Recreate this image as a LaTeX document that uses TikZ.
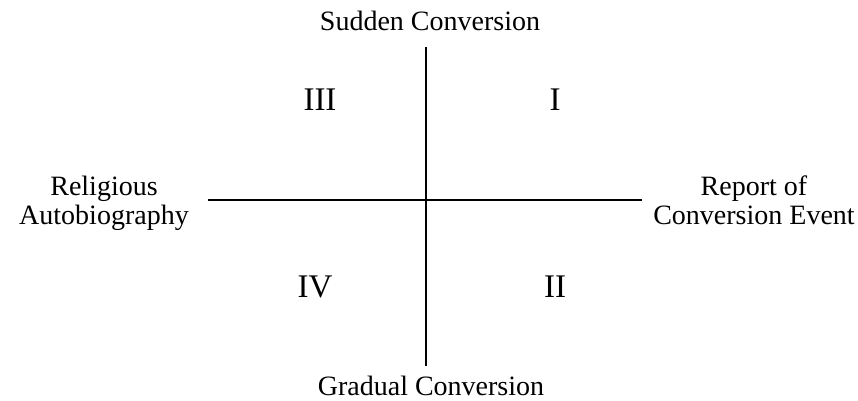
\documentclass[tikz,border=0pt]{standalone}
\usepackage{fontspec}
\setmainfont{Liberation Serif}
\tikzset{
  axislabel/.style={align=center, inner sep=0pt, anchor=base,
    font=\fontsize{28}{29}\selectfont},
  quadlabel/.style={inner sep=0pt, anchor=base,
    font=\fontsize{33}{36}\selectfont},
  axisline/.style={black, line width=1.3pt},
}
\begin{document}
\begin{tikzpicture}[x=1pt,y=-1pt]
\useasboundingbox (0,0) rectangle (858,400);
% axes
\coordinate (top) at (426,47);
\coordinate (bot) at (426,366);
\coordinate (lft) at (208,200);
\coordinate (rgt) at (642,200);
\draw[axisline] (top) -- (bot);
\draw[axisline] (lft) -- (rgt);
% axis ends
\node[axislabel] (sudden) at (430,30) {Sudden Conversion};
\node[axislabel] (gradual) at (431,395) {Gradual Conversion};
\node[axislabel] (relig) at (104,224) {Religious\\Autobiography};
\node[axislabel] (report) at (754,224) {Report of\\Conversion Event};
% quadrants
\node[quadlabel] (qIII) at (320,110) {III};
\node[quadlabel] (qI) at (555,110) {I};
\node[quadlabel] (qIV) at (315,297) {IV};
\node[quadlabel] (qII) at (555,297) {II};
\end{tikzpicture}
\end{document}
